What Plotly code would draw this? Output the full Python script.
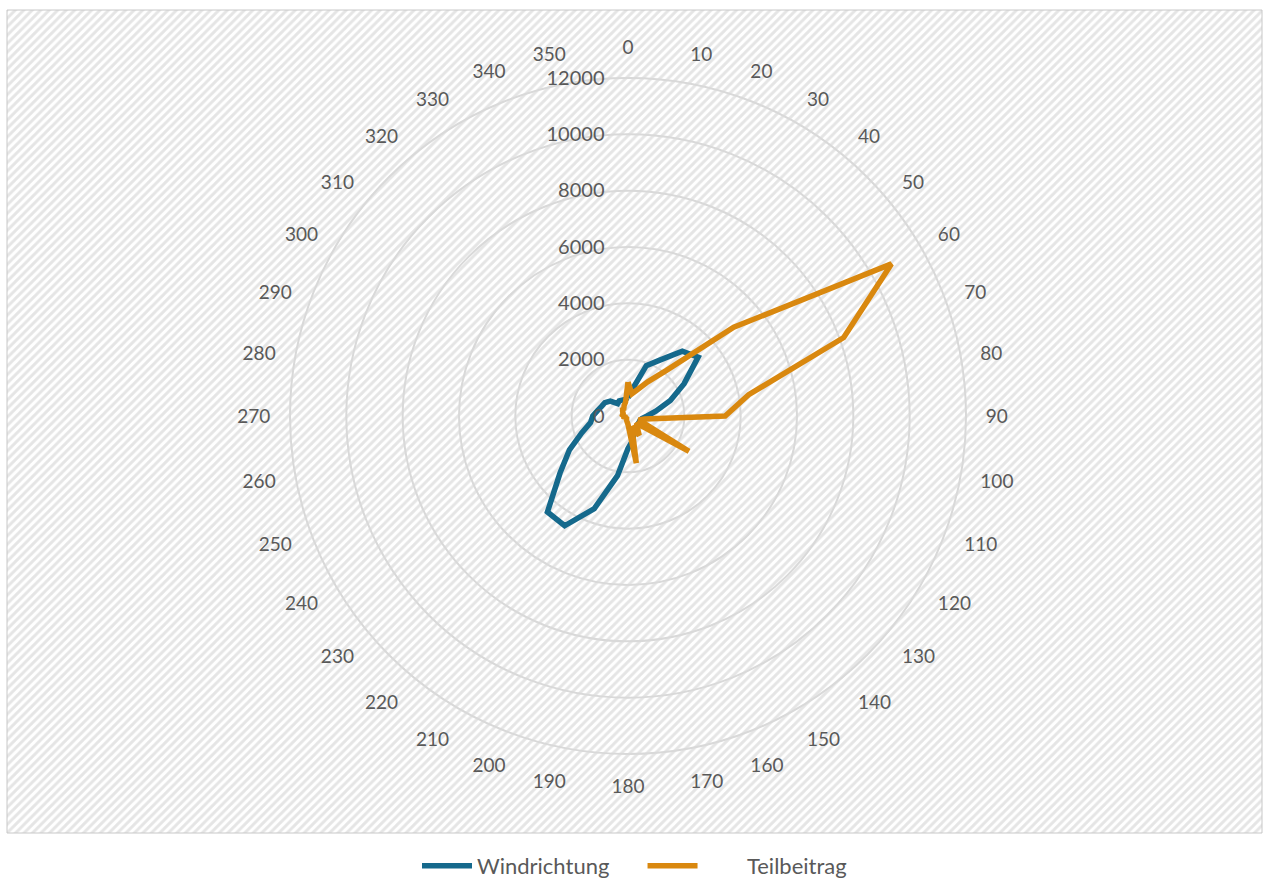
import plotly.graph_objects as go

# Windrichtung (Grad) und Werte
richtungen = ["0", "10", "20", "30", "40", "50", "60", "70", "80", "90",
              "100", "110", "120", "130", "140", "150", "160", "170", "180", "190",
              "200", "210", "220", "230", "240", "250", "260", "270", "280", "290",
              "300", "310", "320", "330", "340", "350"]

windrichtung = [650, 1000, 1900, 2300, 3000, 3250, 2300, 1600, 1000, 680,
                500, 450, 450, 450, 500, 550, 650, 900, 1150, 2150,
                3500, 4500, 4450, 3150, 2400, 1750, 1350, 1250, 1100, 1000,
                950, 820, 570, 620, 600, 600]

teilbeitrag = [1200, 800, 1000, 1400, 2100, 4900, 10800, 8150, 4350, 3450,
               600, 400, 2500, 400, 500, 800, 400, 1700, 300, 200,
               150, 100, 100, 100, 100, 100, 150, 150, 200, 200,
               200, 250, 300, 300, 400, 500]

radial_ticks = [0, 2000, 4000, 6000, 8000, 10000, 12000]
radial_labels = ["0", "2000", "4000", "6000", "8000", "10000", "12000"]

W, H = 1269, 880
BLUE = "#15698c"
ORANGE = "#d9880f"
GREY = "#595959"
GRID = "#d9d9d9"
FONT = "Lato, 'Open Sans', sans-serif"
NB = "\u00a0"

fig = go.Figure()

# schraffierter Diagrammbereich
fig.add_trace(go.Scatter(
    x=[7, 1262, 1262, 7, 7], y=[H - 10, H - 10, H - 833, H - 833, H - 10],
    mode="lines", fill="toself", line=dict(color="#c8c8c8", width=1),
    fillcolor="white",
    fillpattern=dict(shape="/", fgcolor="#cccccc", bgcolor="white", size=6, solidity=0.5),
    hoverinfo="skip", showlegend=False,
))

fig.add_trace(go.Scatterpolar(
    r=windrichtung + windrichtung[:1], theta=richtungen + richtungen[:1],
    mode="lines", name="Windrichtung" + NB * 5, line=dict(color=BLUE, width=5.5),
))
fig.add_trace(go.Scatterpolar(
    r=teilbeitrag + teilbeitrag[:1], theta=richtungen + richtungen[:1],
    mode="lines", name=NB * 8 + "Teilbeitrag",
    line=dict(color=ORANGE, width=5.5),
))

cx, cy, R = 628, 416, 338
fig.update_layout(
    width=W, height=H,
    margin=dict(l=0, r=0, t=0, b=0, autoexpand=False),
    paper_bgcolor="white", plot_bgcolor="rgba(0,0,0,0)",
    font=dict(family=FONT, color=GREY, size=15),
    xaxis=dict(range=[0, W], domain=[0, 1], visible=False, fixedrange=True),
    yaxis=dict(range=[0, H], domain=[0, 1], visible=False, fixedrange=True),
    polar=dict(
        domain=dict(x=[(cx - R) / W, (cx + R) / W],
                    y=[(H - cy - R) / H, (H - cy + R) / H]),
        bgcolor="rgba(0,0,0,0)",
        radialaxis=dict(
            range=[0, 12000], tickvals=radial_ticks, ticktext=radial_labels, angle=90,
            side="counterclockwise", showline=False,
            gridcolor=GRID, gridwidth=2,
            ticks="outside", ticklen=16, tickcolor="rgba(0,0,0,0)",
            tickfont=dict(size=20, color=GREY), tickangle=90,
        ),
        angularaxis=dict(
            type="category", categoryarray=richtungen,
            direction="clockwise", rotation=90,
            showgrid=False, showline=True, linecolor=GRID, linewidth=2,
            ticks="outside", ticklen=15, tickcolor="rgba(0,0,0,0)",
            tickfont=dict(size=19, color=GREY),
        ),
    ),
    legend=dict(orientation="h", x=0.5, xanchor="center", y=14 / H, yanchor="middle",
                font=dict(size=22, color=GREY), itemwidth=50,
                bgcolor="rgba(0,0,0,0)"),
)

fig.write_html("out.html", config={"displayModeBar": False},
               post_script="document.body.style.margin='0';")
